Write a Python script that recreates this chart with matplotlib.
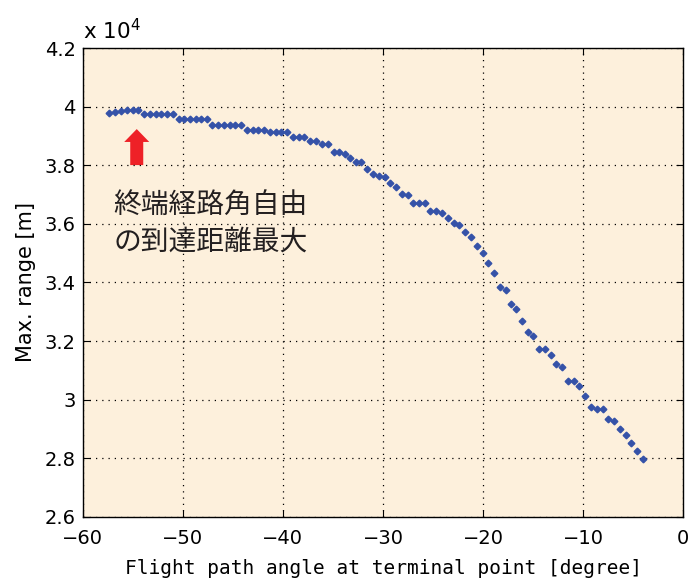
import numpy as np
import matplotlib
matplotlib.use("Agg")
import matplotlib.pyplot as plt

# Flight path angle at terminal point [deg] vs. max range [m]
angle = [-57.37, -56.77, -56.17, -55.57, -55.00, -54.45, -53.88, -53.28, -52.71, -52.15,
         -51.58, -51.01, -50.41, -49.85, -49.28, -48.71, -48.15, -47.61, -47.05, -46.45,
         -45.88, -45.31, -44.76, -44.19, -43.59, -43.02, -42.46, -41.89, -41.29, -40.72,
         -40.16, -39.59, -38.99, -38.42, -37.86, -37.29, -36.69, -36.09, -35.52, -34.93,
         -34.37, -33.77, -33.27, -32.70, -32.17, -31.57, -31.00, -30.40, -29.83, -29.27,
         -28.70, -28.13, -27.53, -26.97, -26.40, -25.83, -25.27, -24.68, -24.11, -23.51,
         -22.94, -22.38, -21.78, -21.21, -20.61, -20.04, -19.48, -18.88, -18.31, -17.74,
         -17.18, -16.68, -16.14, -15.54, -14.98, -14.42, -13.82, -13.25, -12.69, -12.12,
         -11.52, -10.95, -10.39, -9.79, -9.22, -8.65, -8.05, -7.49, -6.92, -6.32,
         -5.75, -5.20, -4.60, -4.03]
max_range = [39780, 39810, 39860, 39900, 39900, 39900, 39750, 39750, 39750, 39750,
             39750, 39750, 39570, 39570, 39570, 39570, 39570, 39570, 39380, 39380,
             39380, 39380, 39380, 39380, 39220, 39220, 39220, 39220, 39150, 39150,
             39150, 39150, 38980, 38980, 38980, 38820, 38820, 38740, 38740, 38460,
             38460, 38390, 38240, 38120, 38120, 37880, 37720, 37630, 37590, 37390,
             37270, 37030, 36980, 36710, 36710, 36710, 36430, 36430, 36380, 36210,
             36030, 35970, 35710, 35540, 35260, 35020, 34670, 34310, 33860, 33750,
             33280, 33110, 32700, 32310, 32170, 31740, 31740, 31530, 31220, 31100,
             30640, 30640, 30470, 30110, 29760, 29670, 29670, 29330, 29270, 29000,
             28800, 28530, 28240, 27960]

# arrow marking the maximum
arrow_x = -54.6
arrow_base, arrow_tip = 3.801, 3.924
label = "終端経路角自由\nの到達距離最大"

fig = plt.figure(figsize=(6.89, 5.81), dpi=100)
ax = fig.add_axes([0.12, 0.1107, 0.8718, 0.8062])
ax.set_facecolor("#fdf0dc")

ax.plot(angle, np.array(max_range) / 1e4, ls="none", marker="D", ms=3.4,
        color="#3552a8", mec="#3552a8")

ax.set_xlim(-60, 0)
ax.set_ylim(2.6, 4.2)
ax.set_xticks(np.arange(-60, 1, 10))
ax.set_yticks(np.arange(2.6, 4.21, 0.2))
ax.set_xticklabels(["\u221260", "\u221250", "\u221240", "\u221230", "\u221220", "\u221210", "0"])
ax.set_yticklabels(["2.6", "2.8", "3", "3.2", "3.4", "3.6", "3.8", "4", "4.2"])
ax.grid(True, ls=(0, (1, 4)), color="black", lw=0.9)
ax.tick_params(direction="in", top=True, right=True, length=5, labelsize=14)
ax.tick_params(axis="x", pad=9)
ax.tick_params(axis="y", pad=5)
for s in ax.spines.values():
    s.set_linewidth(1.0)

ax.set_xlabel("Flight path angle at terminal point [degree]", fontsize=14,
              family="DejaVu Sans Mono", labelpad=8)
ax.set_ylabel("Max. range [m]", fontsize=15, labelpad=6)
ax.text(0.0, 1.01, r"x 10$^{4}$", transform=ax.transAxes, fontsize=15.5,
        ha="left", va="bottom")

ax.arrow(arrow_x, arrow_base, 0, arrow_tip - arrow_base, width=1.3, head_width=2.5,
         head_length=0.044, length_includes_head=True, color="#ee2127", lw=0)

ax.text(-56.9, 3.602, label, fontsize=20, family=["Noto Sans CJK JP", "DejaVu Sans"],
        color="#231f20", ha="left", va="center", linespacing=1.3)

plt.savefig("out.png", dpi=100)
